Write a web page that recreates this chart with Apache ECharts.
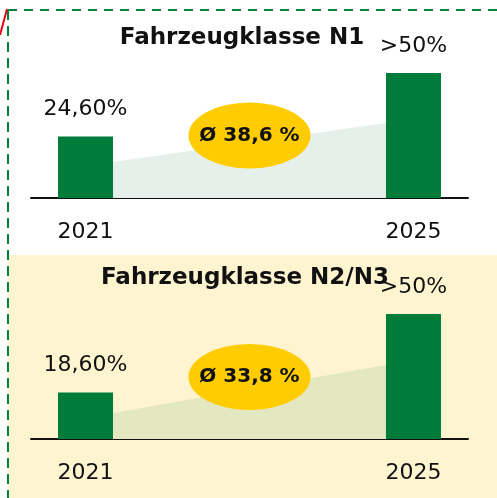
<!DOCTYPE html>
<html><head><meta charset="utf-8">
<script src="https://cdn.jsdelivr.net/npm/echarts@6/dist/echarts.min.js"></script>
<style>html,body{margin:0;padding:0;background:#fff}#c{width:497px;height:498px}</style>
</head><body><div id="c"></div>
<script>
const years = [2021, 2025];
const titles = ['Fahrzeugklasse N1', 'Fahrzeugklasse N2/N3'];
const valuesN1 = [24.6, 50];
const valuesN2 = [18.6, 50];
const labelsN1 = ['24,60%', '>50%'];
const labelsN2 = ['18,60%', '>50%'];
const trendX = [2021.335, 2024.665];
const trendN1 = [14.4, 30];
const trendN2 = [10.4, 29.6];
const avgX = 2023;
const avgY = [25, 24.8];
const avgLabels = ['Ø 38,6 %', 'Ø 33,8 %'];

const green = '#007C3A';
const chart = echarts.init(document.getElementById('c'), null, {renderer: 'canvas'});
const grids = [{left: 31, right: 29, top: 48, height: 150}, {left: 31, right: 29, top: 289, height: 150}];
const valSets = [valuesN1, valuesN2], labSets = [labelsN1, labelsN2], trendSets = [trendN1, trendN2];
const trendColors = ['#E5F0EA', '#E4E8C1'];

const xAxis = [0, 1].map(i => ({
  type: 'value', gridIndex: i, min: 2020.335, max: 2025.665,
  splitLine: {show: false},
  axisLine: {show: true, onZero: false, lineStyle: {color: '#111', width: 2}},
  axisTick: {show: false},
  axisLabel: {customValues: years, margin: 23, fontSize: 22, color: '#111', fontFamily: 'DejaVu Sans', formatter: v => String(Math.round(v))}
}));
const yAxis = [0, 1].map(i => ({type: 'value', gridIndex: i, min: 0, max: 60, show: false}));
const series = [];
[0, 1].forEach(i => {
  series.push({
    type: 'line', xAxisIndex: i, yAxisIndex: i, symbol: 'none', silent: true,
    data: trendX.map((x, k) => [x, trendSets[i][k]]),
    lineStyle: {width: 0}, areaStyle: {color: trendColors[i], opacity: 1}, z: 1
  });
  series.push({
    type: 'bar', xAxisIndex: i, yAxisIndex: i, barWidth: 55, z: 2,
    itemStyle: {color: green},
    data: years.map((y, k) => [y, valSets[i][k]]),
    label: {show: true, position: 'top', distance: 16, fontSize: 22, color: '#111', fontFamily: 'DejaVu Sans',
      formatter: p => labSets[i][p.dataIndex]}
  });
  series.push({
    type: 'scatter', xAxisIndex: i, yAxisIndex: i, symbol: 'circle', symbolSize: [122, 66], z: 3,
    itemStyle: {color: '#FFCC00', opacity: 1},
    data: [[avgX, avgY[i]]],
    label: {show: true, position: 'inside', fontSize: 20, fontWeight: 'bold', color: '#111', fontFamily: 'DejaVu Sans',
      formatter: () => avgLabels[i]}
  });
});

chart.setOption({
  animation: false,
  backgroundColor: '#fff',
  title: [
    {text: titles[0], left: 237, top: 22, textAlign: 'center', textStyle: {fontSize: 23, fontWeight: 'bold', color: '#111', fontFamily: 'DejaVu Sans'}},
    {text: titles[1], left: 240, top: 262, textAlign: 'center', textStyle: {fontSize: 23, fontWeight: 'bold', color: '#111', fontFamily: 'DejaVu Sans'}}
  ],
  graphic: [
    {type: 'rect', z: -10, silent: true, shape: {x: 8, y: 255, width: 489, height: 243}, style: {fill: '#FEF4D0'}},
    {type: 'line', z: 10, silent: true, shape: {x1: 8, y1: 10, x2: 8, y2: 498}, style: {stroke: '#00843D', lineWidth: 2, lineDash: [10, 6]}},
    {type: 'line', z: 10, silent: true, shape: {x1: 8, y1: 10, x2: 497, y2: 10}, style: {stroke: '#00843D', lineWidth: 2, lineDash: [9, 7]}},
    {type: 'line', z: 10, silent: true, shape: {x1: 0, y1: 35, x2: 7, y2: 9}, style: {stroke: '#E2001A', lineWidth: 2}}
  ],
  grid: grids,
  xAxis: xAxis,
  yAxis: yAxis,
  series: series
});
</script></body></html>
